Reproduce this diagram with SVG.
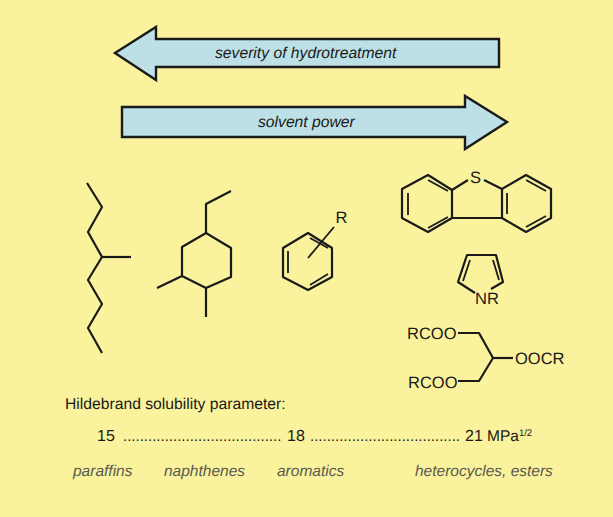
<svg xmlns="http://www.w3.org/2000/svg" width="613" height="517" viewBox="0 0 613 517">
<style>
text{font-family:"Liberation Sans",Arial,sans-serif;fill:#1a1a1a;text-rendering:geometricPrecision}
.arrow{fill:#bde0e6;stroke:#1a1a1a;stroke-width:2.4;stroke-linejoin:miter}
.bond{fill:none;stroke:#1a1a1a;stroke-width:2.2;stroke-linejoin:round}
.thin{fill:none;stroke:#1a1a1a;stroke-width:1.8}
.lab{font-size:15.7px;font-style:italic}
.cat{font-size:15.5px;font-style:italic;fill:#5a5a52}
.chem{font-size:16.5px}
.body{font-size:15.7px}
.num{font-size:16px}
.dots{font-size:15px}
</style>
<rect width="613" height="517" fill="#faf29c"/>
<g id="arrow-severity">
<polygon class="arrow" points="115,53 156,27 156,39 499,39 499,67 156,67 156,80"/>
<text class="lab" x="215" y="58">severity of hydrotreatment</text>
</g>
<g id="arrow-solvent">
<polygon class="arrow" points="507,122 465,96 465,107 122,107 122,137 465,137 465,149"/>
<text class="lab" x="258" y="127">solvent power</text>
</g>
<g id="paraffin">
<polyline class="bond" points="87,183 102,207 88,232 102,257 88,280 102,304 88,328 102,353"/>
<line class="bond" x1="102" y1="257" x2="131" y2="257"/>
</g>
<g id="naphthene">
<polygon class="bond" points="206,233 231,248 231,277 206,288 182,276 182,247"/>
<polyline class="bond" points="206,233 206,204 231,191"/>
<line class="bond" x1="182" y1="276" x2="157" y2="288"/>
<line class="bond" x1="206" y1="288" x2="206" y2="317"/>
</g>
<g id="aromatic">
<polygon class="bond" points="308,233 332,248 332,277 308,290 283,277 283,248"/>
<path class="thin" d="M288,251V273M310,238L328,248M310,285L328,274"/>
<line class="thin" x1="334" y1="227" x2="308" y2="258"/>
<text class="chem" x="335.500" y="223">R</text>
</g>
<g id="dibenzothiophene">
<polyline class="bond" points="468,180 452,190 428,175 402,189 402,218 428,232 452,218 452,190"/>
<polyline class="bond" points="484,180 502,189 526,175 551,189 551,218 526,232 502,218 502,189"/>
<line class="bond" x1="452" y1="218" x2="502" y2="218"/>
<path class="thin" d="M408,193V215M428,180L448,191M428,228L448,217M507,193V214M526,180L546,191M526,227L546,216"/>
<text class="chem" x="470" y="183">S</text>
</g>
<g id="pyrrole">
<polyline class="bond" points="475,293 458,282 467,255 496,255 503,282 491,289"/>
<path class="thin" d="M463,281L470,260M499,280L493,260"/>
<text class="chem" x="475" y="304">NR</text>
</g>
<g id="triglyceride">
<polyline class="bond" points="458,333 479,333 493,358 479,381 458,381"/>
<line class="bond" x1="493" y1="358" x2="513" y2="358"/>
<text class="chem" x="407" y="339">RCOO</text>
<text class="chem" x="515" y="364">OOCR</text>
<text class="chem" x="408" y="388">RCOO</text>
</g>
<g id="scale">
<text class="body" x="65" y="409">Hildebrand solubility parameter:</text>
<text class="num" x="97" y="441">15</text>
<text class="dots" x="123" y="441">......................................</text>
<text class="num" x="287" y="441">18</text>
<text class="dots" x="310" y="441">....................................</text>
<text class="num" x="465" y="441">21</text>
<text class="num" x="487" y="441" style="font-size:15.5px">MPa<tspan font-size="9.500" dy="-5">1/2</tspan></text>
</g>
<g id="categories">
<text class="cat" x="73" y="476">paraffins</text>
<text class="cat" x="164" y="476">naphthenes</text>
<text class="cat" x="277" y="476">aromatics</text>
<text class="cat" x="415" y="476">heterocycles, esters</text>
</g>
</svg>
